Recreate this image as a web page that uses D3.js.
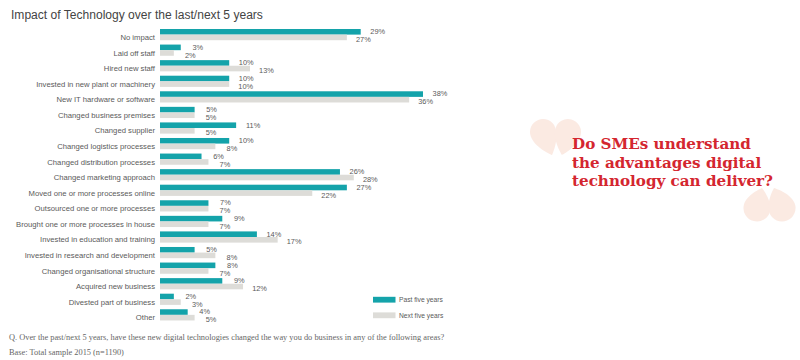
<!DOCTYPE html>
<html>
<head>
<meta charset="utf-8">
<script src="https://cdn.jsdelivr.net/npm/d3@7/dist/d3.min.js"></script>
<style>
  html, body { margin: 0; padding: 0; background: #fff; }
  svg { display: block; }
</style>
</head>
<body>
<svg id="chart" width="800" height="360"></svg>
<script>
const title = "Impact of Technology over the last/next 5 years";
const categories = [
  "No impact", "Laid off staff", "Hired new staff", "Invested in new plant or machinery",
  "New IT hardware or software", "Changed business premises", "Changed supplier",
  "Changed logistics processes", "Changed distribution processes", "Changed marketing approach",
  "Moved one or more processes online", "Outsourced one or more processes",
  "Brought one or more processes in house", "Invested in education and training",
  "Invested in research and development", "Changed organisational structure",
  "Acquired new business", "Divested part of business", "Other"
];
const pastFive = [29, 3, 10, 10, 38, 5, 11, 10, 6, 26, 27, 7, 9, 14, 5, 8, 9, 2, 4];
const nextFive = [27, 2, 13, 10, 36, 5, 5, 8, 7, 28, 22, 7, 7, 17, 8, 7, 12, 3, 5];
const seriesNames = ["Past five years", "Next five years"];
const seriesColors = ["#14a3aa", "#dddcd8"];
const quoteLines = ["Do SMEs understand", "the advantages digital", "technology can deliver?"];
const footnotes = [
  "Q. Over the past/next 5 years, have these new digital technologies changed the way you do business in any of the following areas?",
  "Base: Total sample 2015 (n=1190)"
];

const svg = d3.select("#chart");
const sans = "'Liberation Sans', Arial, sans-serif";

function fitWidth(sel, target) {
  const w = sel.node().getComputedTextLength();
  const fs = parseFloat(sel.attr("font-size"));
  sel.attr("font-size", (fs * target / w).toFixed(2));
}

// Title
const t = svg.append("text").attr("x", 11).attr("y", 19)
  .attr("font-family", sans).attr("font-size", 11).attr("fill", "#444").text(title);
fitWidth(t, 252);

// Scales
const x = d3.scaleLinear().domain([0, 38]).range([160, 423]);
const y = d3.scaleBand().domain(categories).range([29, 29 + 19 * 15.57]).padding(0);
const barH = 5.6;

const rows = svg.append("g").selectAll("g").data(categories).join("g")
  .attr("transform", d => `translate(0,${y(d)})`);

rows.append("rect").attr("x", x(0)).attr("y", 0).attr("height", barH)
  .attr("width", (d, i) => x(pastFive[i]) - x(0)).attr("fill", seriesColors[0]);
rows.append("rect").attr("x", x(0)).attr("y", barH).attr("height", barH)
  .attr("width", (d, i) => x(nextFive[i]) - x(0)).attr("fill", seriesColors[1]);

rows.append("text").attr("x", 155).attr("y", 8.3).attr("dy", "0.35em")
  .attr("text-anchor", "end").attr("font-family", sans).attr("font-size", 7.7)
  .attr("fill", "#5a5a5a").text(d => d);

rows.append("text").attr("x", (d, i) => x(pastFive[i]) + 17).attr("y", 2.5).attr("dy", "0.35em")
  .attr("text-anchor", "middle").attr("font-family", sans).attr("font-size", 7.4)
  .attr("fill", "#5a5a5a").text((d, i) => pastFive[i] + "%");
rows.append("text").attr("x", (d, i) => x(nextFive[i]) + 16.5).attr("y", 10.4).attr("dy", "0.35em")
  .attr("text-anchor", "middle").attr("font-family", sans).attr("font-size", 7.4)
  .attr("fill", "#5a5a5a").text((d, i) => nextFive[i] + "%");

// Legend
const legend = svg.append("g").selectAll("g").data(seriesNames).join("g")
  .attr("transform", (d, i) => `translate(373,${296.8 + i * 15.6})`);
legend.append("rect").attr("width", 22.5).attr("height", 5.8).attr("fill", (d, i) => seriesColors[i]);
legend.append("text").attr("x", 26).attr("y", 2.9).attr("dy", "0.35em")
  .attr("font-family", sans).attr("font-size", 6.7).attr("fill", "#5a5a5a").text(d => d);

// Decorative quote marks (soft blobs)
const qcol = "#f8d9cc";
function drop(cx, cy, r, tx, ty) {
  const ang = Math.atan2(ty - cy, tx - cx);
  const a1 = ang + Math.PI / 2, a2 = ang - Math.PI / 2;
  const p1 = [cx + r * Math.cos(a1), cy + r * Math.sin(a1)];
  const p2 = [cx + r * Math.cos(a2), cy + r * Math.sin(a2)];
  const p = d3.path();
  p.moveTo(p1[0], p1[1]);
  p.arc(cx, cy, r, a1, a2 + 2 * Math.PI, false);
  p.bezierCurveTo(p2[0] + (tx - cx) * 0.5, p2[1] + (ty - cy) * 0.5, tx, ty, tx, ty);
  p.bezierCurveTo(tx, ty, p1[0] + (tx - cx) * 0.5, p1[1] + (ty - cy) * 0.5, p1[0], p1[1]);
  p.closePath();
  return p.toString();
}
const quotes = svg.append("g").attr("opacity", 0.55);
[[543, 132, 13, 552, 155], [568, 132, 13, 562, 155],
 [757, 208, 13.5, 762, 188], [782, 208, 13.5, 774, 188]].forEach(q => {
  quotes.append("path").attr("d", drop(...q)).attr("fill", qcol);
});

// Red question
const qg = svg.append("g");
const serifBold = "'DejaVu Serif', 'Liberation Serif', serif";
const ql = qg.selectAll("text").data(quoteLines).join("text")
  .attr("x", 572).attr("y", (d, i) => 149 + i * 18.5)
  .attr("font-family", serifBold).attr("font-weight", "bold").attr("font-size", 14)
  .attr("fill", "#d4262f").text(d => d);
{
  const w3 = ql.nodes()[2].getComputedTextLength();
  ql.attr("font-size", (14 * 201 / w3).toFixed(2));
}

// Footnotes
const fn = svg.selectAll("text.fn").data(footnotes).join("text").attr("class", "fn")
  .attr("x", 9).attr("y", (d, i) => 340 + i * 14.5)
  .attr("font-family", "'Liberation Serif', serif").attr("font-size", 8)
  .attr("fill", "#666").text(d => d);
{
  const w1 = fn.nodes()[0].getComputedTextLength();
  fn.attr("font-size", (8 * 436 / w1).toFixed(2));
}
</script>
</body>
</html>
